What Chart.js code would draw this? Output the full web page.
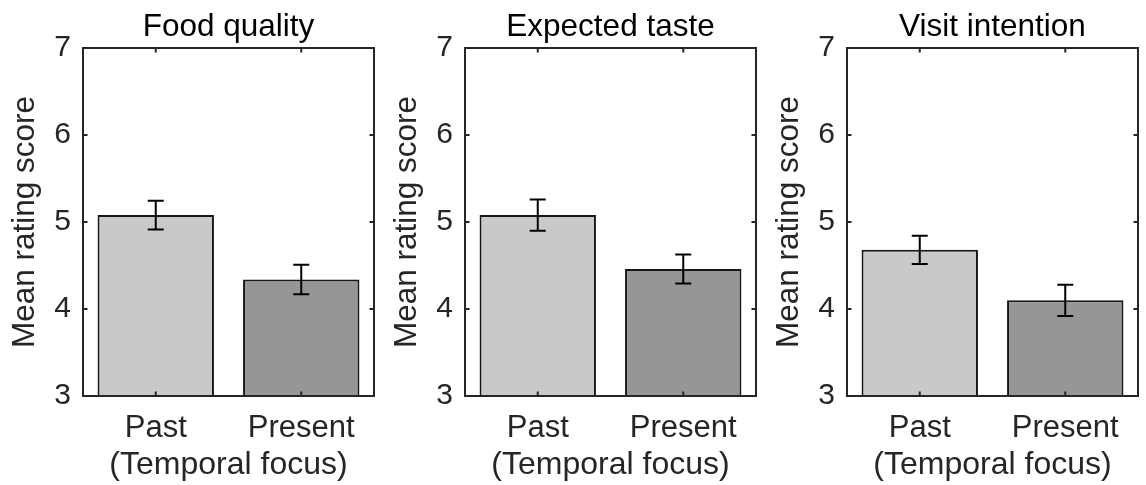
<!DOCTYPE html>
<html lang="en">
  <head>
    <meta charset="UTF-8" />
    <title>Mean rating score by temporal focus</title>
    <script src="https://cdn.jsdelivr.net/npm/chart.js"></script>
    <style>
      body {
        margin: 0;
        background: #fff;
        width: 1146px;
        height: 485px;
        overflow: hidden;
        position: relative;
      }
      .panel {
        position: absolute;
        top: 0;
        width: 382px;
        height: 485px;
      }
    </style>
  </head>
  <body>
    <div class="panel" style="left: 0px"><canvas id="food" width="382" height="485"></canvas></div>
    <div class="panel" style="left: 382px"><canvas id="taste" width="382" height="485"></canvas></div>
    <div class="panel" style="left: 764px"><canvas id="visit" width="382" height="485"></canvas></div>

    <script>
      // values
      const categories = ["Past", "Present"];
      const panelTitles = ["Food quality", "Expected taste", "Visit intention"];
      const yTitle = "Mean rating score";
      const xTitle = "(Temporal focus)";

      const foodMeans = [5.08, 4.34];
      const foodErrors = [0.165, 0.17];
      const tasteMeans = [5.08, 4.46];
      const tasteErrors = [0.18, 0.167];
      const visitMeans = [4.68, 4.1];
      const visitErrors = [0.163, 0.18];

      const yMin = 3;
      const yMax = 7;

      const barColors = ["#c9c9c9", "#969696"];
      const axisColor = "#262626";
      const fontFamily = "'Liberation Sans', Arial, Helvetica, sans-serif";

      // error bars, drawn from the y scale
      const errorBars = {
        id: "errorBars",
        afterDatasetsDraw(chart) {
          const ctx = chart.ctx;
          const y = chart.scales.y;
          const ds = chart.data.datasets[0];
          const meta = chart.getDatasetMeta(0);
          ctx.save();
          ctx.strokeStyle = "#000";
          ctx.lineWidth = 2;
          meta.data.forEach((bar, i) => {
            const top = y.getPixelForValue(ds.data[i] + ds.errors[i]);
            const bot = y.getPixelForValue(ds.data[i] - ds.errors[i]);
            ctx.beginPath();
            ctx.moveTo(bar.x, top);
            ctx.lineTo(bar.x, bot);
            ctx.moveTo(bar.x - 8, top);
            ctx.lineTo(bar.x + 8, top);
            ctx.moveTo(bar.x - 8, bot);
            ctx.lineTo(bar.x + 8, bot);
            ctx.stroke();
          });
          ctx.restore();
        },
      };

      // matlab style box with inward ticks on all sides
      const axesBox = {
        id: "axesBox",
        afterDraw(chart) {
          const ctx = chart.ctx;
          const { left, right, top, bottom } = chart.chartArea;
          const x = chart.scales.x;
          const y = chart.scales.y;
          const tl = 4.5;
          ctx.save();
          ctx.strokeStyle = axisColor;
          ctx.lineWidth = 2;
          ctx.beginPath();
          y.ticks.forEach((t, i) => {
            const py = y.getPixelForTick(i);
            ctx.moveTo(left, py);
            ctx.lineTo(left + tl, py);
            ctx.moveTo(right, py);
            ctx.lineTo(right - tl, py);
          });
          x.ticks.forEach((t, i) => {
            const px = x.getPixelForTick(i);
            ctx.moveTo(px, bottom);
            ctx.lineTo(px, bottom - tl);
            ctx.moveTo(px, top);
            ctx.lineTo(px, top + tl);
          });
          ctx.stroke();
          ctx.strokeRect(left, top, right - left, bottom - top);
          ctx.restore();
        },
      };

      function makePanel(id, title, means, errors) {
        new Chart(document.getElementById(id), {
          type: "bar",
          data: {
            labels: categories,
            datasets: [
              {
                data: means,
                errors: errors,
                backgroundColor: barColors,
                borderColor: "#161616",
                borderWidth: 2,
                borderSkipped: false,
                barPercentage: 0.8,
                categoryPercentage: 1.0,
              },
            ],
          },
          options: {
            responsive: false,
            animation: false,
            layout: { padding: { left: 0, right: 8, top: 0, bottom: 0 } },
            plugins: {
              legend: { display: false },
              tooltip: { enabled: false },
              title: {
                display: true,
                text: title,
                fullSize: false,
                color: "#000",
                font: { family: fontFamily, size: 31.5, weight: "normal", lineHeight: 1.2 },
                padding: { top: 8, bottom: 2.2 },
              },
            },
            scales: {
              x: {
                type: "category",
                offset: true,
                grid: { display: false, drawTicks: false, offset: true },
                border: { display: false },
                ticks: {
                  color: axisColor,
                  padding: 14,
                  maxRotation: 0,
                  font: { family: fontFamily, size: 31, lineHeight: 1.2 },
                },
                title: {
                  display: true,
                  text: xTitle,
                  color: axisColor,
                  font: { family: fontFamily, size: 32, lineHeight: 1.2 },
                  padding: { top: 0, bottom: 0.2 },
                },
                afterFit(scale) {
                  scale.height = 89;
                },
              },
              y: {
                min: yMin,
                max: yMax,
                grid: { display: false, drawTicks: false },
                border: { display: false },
                ticks: {
                  stepSize: 1,
                  color: axisColor,
                  padding: 12,
                  font: { family: fontFamily, size: 30, lineHeight: 1.2 },
                },
                title: {
                  display: true,
                  text: yTitle,
                  color: axisColor,
                  font: { family: fontFamily, size: 31.5, lineHeight: 1.2 },
                  padding: { top: 6, bottom: 0 },
                },
                afterFit(scale) {
                  scale.width = 83;
                },
              },
            },
          },
          plugins: [errorBars, axesBox],
        });
      }

      makePanel("food", panelTitles[0], foodMeans, foodErrors);
      makePanel("taste", panelTitles[1], tasteMeans, tasteErrors);
      makePanel("visit", panelTitles[2], visitMeans, visitErrors);
    </script>
  </body>
</html>
